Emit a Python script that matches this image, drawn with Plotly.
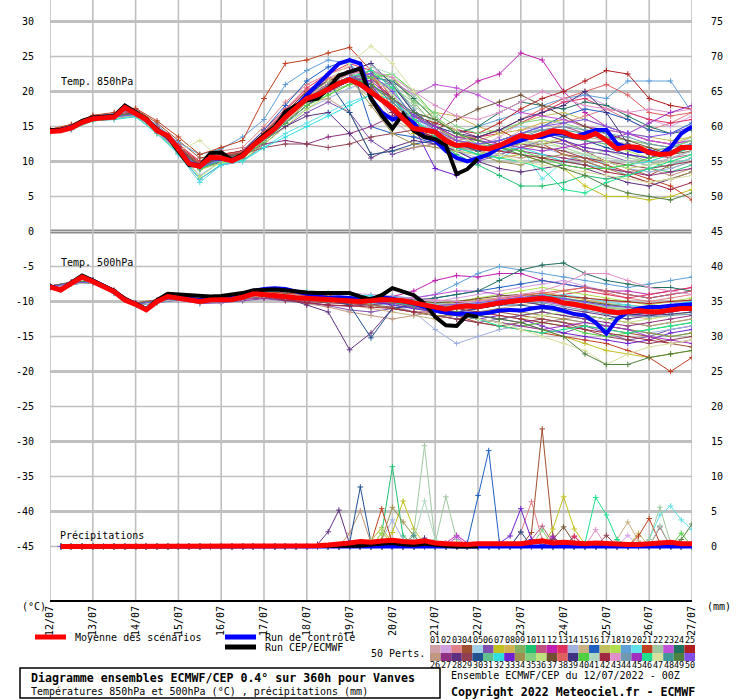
import plotly.graph_objects as go

# ---------------- data ----------------
dates = ["12/07","13/07","14/07","15/07","16/07","17/07","18/07","19/07",
         "20/07","21/07","22/07","23/07","24/07","25/07","26/07","27/07"]
hours6 = list(range(0, 361, 6))
hours12 = list(range(0, 361, 12))
precip_hours = list(range(6, 361, 6))

mean_850 = [14.3,14.4,14.8,15.6,16.1,16.3,16.35,17.7,16.8,16.0,14.4,13.7,11.8,9.7,9.3,
            10.6,10.5,10.1,10.8,12.3,13.5,14.7,16.35,17.6,19.0,19.5,20.4,21.15,21.7,21.0,
            19.9,18.75,17.7,16.1,14.7,14.5,14.2,13.0,12.3,12.4,12.0,11.8,12.3,13.0,13.7,
            13.4,13.9,14.4,14.2,13.6,13.4,14.0,13.0,11.8,12.1,12.0,11.3,11.0,11.1,12.0,12.0]
control_850 = [14.4,14.5,14.9,15.7,16.2,16.4,16.4,17.8,16.9,16.0,14.5,13.7,11.9,9.8,9.4,
               10.5,10.4,10.2,10.9,12.4,13.6,14.8,16.5,17.8,19.5,21.0,22.5,24.0,24.5,24.0,
               19.0,17.0,16.0,16.5,15.5,13.5,13.0,11.5,10.5,10.0,10.5,11.0,12.0,12.5,13.0,
               13.5,13.5,14.0,14.0,13.5,14.0,14.5,14.5,12.5,12.0,11.5,11.5,11.0,12.0,14.0,15.0]
ops_850 = [14.5,14.5,14.9,15.8,16.3,16.4,16.5,18.0,17.0,16.1,14.5,13.6,11.5,9.5,9.4,
           11.2,11.3,10.2,11.0,12.5,13.8,14.9,17.1,18.0,18.75,19.0,20.4,22.3,22.8,23.3,
           19.0,16.6,14.7,16.8,14.4,13.5,13.2,12.3,8.2,8.9,10.4]

mean_500 = [-7.9,-8.35,-7.4,-6.5,-7.15,-7.9,-8.6,-9.8,-10.4,-11.2,-10.0,-9.3,-9.55,-9.8,-10.0,
            -9.8,-9.8,-9.7,-9.4,-8.9,-9.0,-9.2,-9.3,-9.45,-9.55,-9.65,-9.7,-9.7,-9.8,-10.0,
            -9.9,-9.7,-9.8,-9.9,-10.2,-10.5,-10.8,-11.1,-10.8,-10.65,-10.75,-10.4,-10.2,-10.0,-9.8,
            -9.7,-9.55,-9.7,-10.2,-10.4,-10.65,-11.0,-11.35,-11.6,-11.45,-11.3,-11.45,-11.45,-11.2,-11.0,-11.0]
control_500 = [-7.8,-8.3,-7.3,-6.4,-7.0,-7.8,-8.5,-9.7,-10.3,-11.1,-9.9,-9.2,-9.4,-9.6,-9.8,
               -9.6,-9.5,-9.3,-9.0,-8.5,-8.2,-8.1,-8.2,-8.6,-9.0,-9.3,-9.5,-9.4,-9.5,-9.7,
               -9.6,-9.4,-9.6,-9.9,-10.3,-10.8,-11.3,-11.6,-11.8,-11.7,-11.8,-11.6,-11.3,-11.2,-11.3,
               -11.0,-10.8,-10.9,-11.3,-11.8,-12.0,-13.0,-14.6,-12.5,-11.5,-11.0,-10.8,-10.8,-10.6,-10.5,-10.4]
ops_500 = [-7.8,-8.4,-7.3,-6.3,-7.0,-7.8,-8.5,-9.7,-10.3,-11.1,-9.8,-8.9,-9.0,-9.2,-9.3,
           -9.3,-9.2,-9.0,-8.8,-8.4,-8.3,-8.3,-8.4,-8.6,-8.7,-8.8,-8.8,-8.8,-8.8,-9.3,
           -9.7,-9.1,-8.1,-8.6,-9.1,-10.3,-12.2,-13.4,-13.5,-11.9,-12.2]

mean_precip = [0,0,0,0,0,0,0,0,0,0,0,0,0,0,0,0,0,0,0,0,0,0,0,0,
               0.1,0.2,0.3,0.5,0.7,0.6,0.8,0.9,0.7,0.6,0.8,0.5,0.4,0.3,0.3,0.4,0.4,0.3,
               0.3,0.4,0.6,0.8,0.5,0.6,0.5,0.4,0.5,0.4,0.3,0.3,0.3,0.4,0.5,0.6,0.4,0.4]
ops_precip = [0,0,0,0,0,0,0,0,0,0,0,0,0,0,0,0,0,0,0,0,0,0,0,0,0,0,0,0,
              0.1,0.3,0.4,0.5,0.3,0.2,0.4,0.2,0.1,0,0,0]
control_precip = [0,0,0,0,0,0,0,0,0,0,0,0,0,0,0,0,0,0,0,0,0,0,0,0,0,0,0,0,0,0,
                  0,0,0,0,0,0,0,0,0,0,0,0,0,0,0,0,0,0,0,0,0,0,0,0,0,0,0,0,0,0]

member_colors = ["#d0a0a8","#d0a0e0","#e08088","#a05030","#a0d0e8","#8050b0","#c0c020","#d0b050",
                 "#80b060","#20c070","#c05080","#c020b0","#e03060","#a0b0e0","#c8b080","#2060c0",
                 "#c0c060","#b0e050","#60a0d8","#60e0e8","#c04020","#a0c8a0","#c050d8","#207060",
                 "#b02020","#c09880","#903080","#603080","#904050","#205090","#60c090","#30e0e0",
                 "#7020d0","#a09050","#80d080","#c0e080","#705030","#e06060","#403080","#50d040",
                 "#b0d8c0","#a02840","#e090c8","#7098b0","#a030c0","#20e090","#d8e0a0","#409898",
                 "#508040","#8050e8"]

members_850 = [
 [14.5,15.0,16.3,16.2,17.0,14.8,12.0,9.0,10.0,11.0,14.0,17.0,19.5,21.0,22.5,21.0,16.0,13.5,13.0,12.0,11.0,12.5,14.5,15.0,16.0,15.0,14.0,13.0,12.5,12.0,13.0],
 [14.2,14.6,16.0,16.5,16.5,14.0,11.5,9.5,10.8,11.5,14.5,17.5,20.0,22.0,23.0,24.0,20.0,15.0,13.0,11.5,12.0,13.5,15.5,17.0,18.5,19.5,18.0,17.0,16.0,15.0,16.5],
 [14.4,14.8,16.5,16.6,17.2,15.0,12.5,10.0,11.5,12.0,15.0,18.5,21.0,22.5,23.5,22.0,18.5,15.5,14.5,13.5,13.0,12.0,13.0,14.0,15.5,16.5,17.5,16.0,14.5,15.5,17.0],
 [14.6,15.2,16.4,16.8,17.5,15.5,13.0,10.5,11.0,11.5,13.0,15.5,18.5,20.5,22.0,22.5,21.0,17.0,15.0,13.0,12.0,11.0,12.0,12.5,13.0,11.5,10.0,9.0,8.0,9.5,10.5],
 [14.0,14.5,15.8,16.0,16.5,14.2,11.5,9.0,10.5,11.0,13.5,16.0,18.5,20.0,21.5,22.5,19.5,16.5,14.0,12.5,13.5,14.5,15.0,14.5,15.0,14.0,13.0,12.5,11.5,12.0,13.5],
 [14.3,14.8,16.1,16.5,16.5,14.5,11.0,7.5,9.5,10.0,12.5,15.0,17.0,18.5,17.0,13.0,11.0,12.0,12.5,11.5,10.0,11.0,12.0,13.0,12.5,11.5,11.0,10.0,9.5,10.5,11.5],
 [14.2,14.7,15.9,16.2,16.8,14.6,12.0,9.5,10.2,10.5,13.0,16.0,18.5,20.5,22.0,21.5,17.5,14.0,13.5,12.0,11.5,10.5,11.0,10.0,9.0,6.5,5.0,5.0,4.5,5.0,6.0],
 [14.5,15.0,16.2,16.4,17.0,14.8,12.2,9.8,11.0,11.0,13.5,16.5,19.5,21.5,22.5,20.5,18.0,16.0,17.0,16.5,15.0,14.0,14.5,15.5,16.0,15.0,14.5,14.0,13.0,12.5,13.5],
 [14.3,14.9,16.0,16.3,16.7,14.3,11.5,9.2,10.5,11.0,13.0,15.5,18.0,20.0,21.5,23.0,22.0,18.5,15.0,13.0,12.0,12.5,13.5,14.0,13.0,12.0,11.5,11.0,10.0,9.0,10.0],
 [14.4,14.7,16.2,16.5,16.9,14.5,11.8,9.0,10.0,10.5,13.0,16.0,19.0,21.0,22.0,21.0,19.0,15.5,13.0,11.0,9.5,8.0,6.5,6.5,7.0,8.0,7.5,8.0,9.0,8.5,9.5],
 [14.3,14.8,16.2,16.3,16.6,14.2,11.6,9.4,10.6,11.0,14.0,17.0,19.5,21.0,22.0,20.0,17.0,14.5,13.5,12.5,12.5,13.0,14.0,14.5,15.0,14.0,13.5,12.0,11.0,10.5,11.0],
 [14.4,14.9,16.3,16.5,17.0,14.8,12.2,9.6,10.8,11.2,13.8,16.5,19.5,21.0,22.0,20.0,17.5,16.0,15.0,19.5,21.5,22.5,25.5,24.5,20.0,17.0,15.0,14.0,13.0,12.5,13.0],
 [14.5,15.0,16.4,16.7,17.2,15.0,12.5,10.0,11.0,11.5,14.5,17.5,20.5,22.5,24.0,23.0,19.0,16.0,15.0,13.5,13.5,14.0,15.5,17.0,18.5,19.0,17.5,17.0,16.0,15.5,16.0],
 [14.2,14.6,15.9,16.2,16.5,14.0,11.2,8.0,10.0,10.5,13.0,15.5,17.5,19.0,20.5,21.5,21.0,17.0,14.0,11.5,10.5,11.0,12.5,12.0,11.0,10.5,10.0,9.0,8.5,9.0,10.0],
 [14.4,14.8,16.1,16.4,16.9,14.4,11.9,9.3,10.3,10.8,13.5,16.0,19.0,20.5,21.5,19.0,16.0,14.5,13.5,12.0,11.5,12.0,13.0,13.5,14.0,13.5,13.0,12.5,12.0,11.5,12.5],
 [14.3,14.7,16.0,16.5,17.1,14.7,12.0,9.5,10.8,11.5,14.5,18.0,21.5,23.5,24.5,15.0,14.0,13.5,12.5,11.5,12.5,13.0,14.0,15.0,16.5,17.5,17.0,16.0,14.5,14.0,15.5],
 [14.4,14.9,16.2,16.4,16.8,14.3,11.6,9.0,10.5,11.0,13.0,16.0,18.5,20.0,21.0,22.0,20.0,16.5,15.0,13.5,13.0,14.0,15.5,16.5,17.0,16.0,15.0,14.0,13.5,13.0,13.5],
 [14.2,14.6,15.8,16.1,16.4,14.1,11.3,8.8,9.8,10.2,12.5,15.0,17.5,19.5,21.0,22.5,22.0,19.0,16.0,14.0,13.0,12.0,11.5,12.5,13.5,13.0,12.5,11.5,10.5,11.0,12.0],
 [14.5,15.1,16.4,16.8,17.3,15.2,12.7,11.0,11.8,13.5,16.0,21.0,23.0,24.5,24.0,21.0,18.5,16.0,15.0,14.0,15.0,16.0,17.0,18.0,19.0,19.5,19.0,21.5,21.5,21.5,17.0],
 [14.2,14.6,15.9,16.1,16.4,14.0,11.0,7.0,9.5,10.0,12.0,14.0,15.5,17.0,18.5,19.5,18.0,15.0,14.0,12.5,11.0,10.5,12.0,7.5,10.0,11.0,9.5,8.0,9.0,9.5,10.5],
 [14.6,15.3,16.6,17.0,17.6,15.8,13.5,11.0,12.0,13.0,19.0,24.0,24.5,25.5,26.3,23.0,17.5,14.5,13.0,12.0,13.5,14.5,13.0,12.5,11.0,10.5,9.5,8.5,7.5,6.5,4.5],
 [14.3,14.8,16.1,16.3,16.7,14.4,11.7,9.1,10.2,10.7,13.2,16.0,18.5,20.0,21.0,21.5,20.5,18.0,15.5,13.0,12.0,12.5,13.0,12.0,11.5,11.0,11.5,10.5,10.0,11.0,12.0],
 [14.4,14.9,16.2,16.5,16.9,14.6,12.0,9.5,10.8,11.3,14.0,17.0,19.5,21.0,21.5,20.0,21.5,19.5,21.0,20.5,19.5,18.0,17.0,16.5,16.0,15.0,14.5,14.0,13.0,12.5,13.0],
 [14.2,14.7,16.0,16.3,16.6,14.2,11.4,9.0,10.2,10.8,13.0,15.5,18.0,20.0,21.5,22.0,21.5,19.0,16.0,14.0,15.0,17.0,18.5,18.0,17.5,18.5,18.0,16.5,15.0,14.0,14.5],
 [14.5,15.0,16.3,16.6,17.1,14.9,12.3,9.8,11.0,11.5,14.0,17.0,20.0,21.5,23.0,22.0,19.0,16.5,15.5,14.5,14.0,15.5,17.5,19.0,20.0,21.5,23.0,22.5,19.0,18.0,17.5],
 [14.3,14.8,16.1,16.4,16.8,14.4,11.6,9.2,10.4,10.8,13.3,16.0,18.5,19.0,17.0,11.0,11.5,12.0,12.5,12.0,11.5,11.0,10.5,11.0,10.0,9.5,9.0,8.5,9.0,8.0,9.0],
 [14.2,14.6,15.9,16.2,16.6,14.3,11.5,9.2,10.4,10.8,12.5,13.0,12.5,13.5,14.0,15.0,16.5,17.0,16.0,14.5,13.5,12.5,11.5,11.0,10.5,10.0,9.0,8.5,8.0,8.5,9.0],
 [14.3,14.7,16.0,16.4,16.7,14.3,11.5,9.0,10.0,10.5,13.0,15.0,16.5,17.0,14.0,10.5,12.0,13.0,12.5,11.5,10.0,9.0,8.5,9.0,9.5,9.0,8.0,7.0,6.5,7.5,8.5],
 [14.4,14.9,16.2,16.5,16.9,14.5,11.8,9.4,10.6,11.0,12.0,12.5,12.5,12.0,12.5,13.5,14.0,14.5,13.5,12.5,11.5,12.0,12.5,12.0,11.5,10.5,10.0,9.5,9.0,9.5,10.0],
 [14.3,14.8,16.1,16.4,16.8,14.5,11.7,9.1,10.3,10.8,13.5,16.5,19.5,21.5,17.0,11.0,11.5,12.5,13.0,12.5,11.5,12.0,13.0,14.0,13.5,13.0,12.0,11.0,10.5,11.5,12.5],
 [14.4,14.9,16.1,16.4,16.9,14.5,11.8,9.3,10.5,10.9,13.6,16.3,19.0,20.5,22.0,23.0,21.5,17.0,14.5,13.0,12.5,13.0,14.0,14.5,14.0,13.0,12.5,12.0,11.5,12.0,13.0],
 [14.2,14.6,15.8,16.0,16.4,14.0,11.2,7.5,9.6,10.2,12.0,13.5,15.0,16.5,18.0,19.5,19.0,16.0,14.0,12.0,11.0,11.5,12.0,11.0,10.0,9.5,9.0,9.5,10.0,11.0,12.0],
 [14.3,14.8,16.1,16.4,16.7,14.3,11.5,9.0,10.0,10.6,13.0,15.5,18.0,20.0,21.5,21.0,17.0,15.0,9.0,8.0,10.0,12.0,13.5,14.0,13.0,12.0,11.5,11.0,10.5,11.5,12.0],
 [14.4,14.9,16.2,16.5,16.9,14.6,12.0,9.5,10.7,11.2,13.8,16.8,19.5,21.0,22.0,18.0,14.0,12.5,12.0,11.5,11.0,10.0,9.5,10.5,11.0,10.0,9.0,8.0,7.0,7.5,8.5],
 [14.3,14.7,16.0,16.3,16.7,14.3,11.6,9.1,10.3,10.8,13.4,16.2,19.0,21.0,22.5,22.0,20.5,18.5,17.0,15.0,14.0,14.5,15.5,16.0,15.5,14.5,13.5,13.0,12.5,12.0,13.0],
 [14.2,14.6,15.9,16.2,16.6,14.1,11.4,7.8,10.0,10.6,13.0,15.8,18.5,20.5,22.0,22.5,19.5,16.0,13.5,11.5,11.0,11.5,12.5,13.0,12.0,11.0,10.0,9.0,9.5,10.0,11.0],
 [14.5,15.0,16.3,16.6,17.0,14.7,12.1,9.6,10.8,11.3,14.0,17.0,20.0,21.5,22.5,20.5,17.5,15.0,14.5,16.0,17.5,18.5,19.5,18.0,16.5,15.0,14.0,13.0,12.0,11.0,11.5],
 [14.4,14.9,16.2,16.6,17.1,14.8,12.3,9.7,10.9,11.4,14.2,17.3,20.2,21.8,23.0,22.5,18.5,15.5,14.0,13.0,13.5,14.5,16.0,17.5,19.0,20.0,21.0,19.5,17.0,16.5,17.0],
 [14.3,14.8,16.1,16.4,16.8,14.4,11.7,9.2,10.4,10.9,13.6,16.4,19.2,21.0,23.0,24.0,21.0,17.0,15.0,14.0,13.5,14.5,16.0,17.0,18.0,20.0,17.0,12.5,11.0,11.5,12.5],
 [14.3,14.7,16.0,16.3,16.6,14.2,11.4,8.9,10.1,10.5,12.8,15.5,18.0,19.5,21.0,22.0,22.5,20.0,16.5,14.0,12.5,12.0,11.5,10.5,9.5,9.0,9.0,9.5,10.5,11.0,12.0],
 [14.2,14.7,16.0,16.3,16.7,14.3,11.6,9.2,10.2,10.7,13.2,16.0,18.8,20.5,22.0,23.5,22.5,19.5,16.5,13.5,12.5,12.0,13.0,12.5,12.0,11.0,10.5,10.0,9.5,10.5,11.5],
 [14.4,14.9,16.2,16.5,16.9,14.6,11.9,9.4,10.6,11.1,13.7,16.6,19.3,20.8,21.5,20.0,17.0,14.5,13.5,12.5,12.0,11.5,11.0,10.5,10.0,9.5,8.5,8.0,7.0,6.0,7.0],
 [14.3,14.8,16.1,16.4,16.8,14.4,11.7,9.2,10.4,10.9,13.6,16.4,19.2,21.0,22.5,23.0,22.0,20.0,18.0,16.5,16.0,17.0,18.5,20.0,19.0,18.0,17.5,17.0,17.5,17.0,17.5],
 [14.2,14.6,15.9,16.2,16.6,14.2,11.4,9.0,10.2,10.7,13.1,15.9,18.7,20.2,21.5,22.5,21.0,17.5,14.5,12.5,12.0,12.5,13.5,14.5,15.0,14.5,14.0,13.5,12.5,12.0,12.5],
 [14.4,14.9,16.2,16.5,16.9,14.5,11.8,9.3,10.5,11.0,13.5,16.3,19.0,20.6,22.0,21.5,19.0,16.5,15.0,13.5,13.0,12.5,12.0,11.5,12.0,12.5,13.0,14.0,15.5,17.0,18.0],
 [14.3,14.8,16.1,16.3,16.7,14.3,11.5,9.0,10.2,10.7,13.3,16.1,18.8,20.5,22.0,23.0,20.5,16.0,13.5,12.0,11.0,10.5,10.0,9.0,6.0,5.5,7.0,8.0,9.0,10.0,11.0],
 [14.2,14.7,15.9,16.2,16.6,14.2,11.5,13.0,10.3,10.8,13.2,16.0,19.0,21.5,24.0,26.5,24.0,20.0,16.0,14.5,12.0,11.0,10.0,9.5,9.0,8.5,8.0,7.5,7.0,7.5,8.0],
 [14.3,14.8,16.1,16.4,16.8,14.4,11.7,9.2,10.4,10.9,13.5,16.3,19.0,20.8,22.0,21.0,18.5,15.5,14.0,12.5,12.0,12.5,13.5,14.0,14.5,14.0,13.0,12.0,11.5,11.0,12.0],
 [14.4,14.9,16.2,16.5,16.9,14.5,11.8,9.3,10.5,11.0,13.6,16.4,19.1,20.7,21.8,21.0,19.0,17.0,16.0,14.0,13.0,12.0,11.0,10.0,9.0,8.0,6.5,5.5,5.0,4.5,5.5],
 [14.3,14.7,16.0,16.3,16.7,14.3,11.6,9.1,10.3,10.8,13.3,16.1,18.9,20.6,22.0,22.5,20.0,16.5,14.5,13.0,12.5,13.0,14.0,15.0,15.5,16.0,15.0,14.0,13.5,14.0,15.0],
]

members_500 = [
 [-7.8,-7.3,-7.0,-8.5,-10.3,-9.8,-9.3,-9.7,-9.5,-9.2,-8.8,-9.0,-9.3,-9.5,-9.6,-9.8,-10.0,-10.5,-11.0,-10.5,-10.0,-9.5,-9.0,-8.8,-9.5,-10.0,-10.5,-10.8,-11.0,-10.5,-10.2],
 [-8.0,-7.5,-7.1,-8.7,-10.5,-10.1,-9.6,-10.1,-9.9,-9.5,-9.1,-9.4,-9.2,-9.0,-8.8,-9.0,-9.2,-9.6,-10.0,-9.5,-9.0,-8.5,-8.0,-7.5,-7.0,-7.8,-8.5,-9.0,-9.5,-9.0,-8.5],
 [-7.9,-7.4,-7.0,-8.4,-10.2,-9.9,-9.4,-9.8,-9.6,-9.3,-8.8,-9.0,-9.1,-9.3,-9.5,-9.6,-9.5,-10.0,-10.5,-10.8,-11.0,-10.5,-10.0,-9.2,-8.5,-8.0,-8.8,-9.5,-10.0,-9.5,-9.0],
 [-7.8,-7.2,-7.0,-8.5,-10.3,-9.9,-9.5,-10.0,-9.9,-9.6,-9.3,-9.6,-9.8,-10.0,-10.2,-10.5,-11.0,-11.5,-12.0,-12.5,-12.0,-11.5,-12.0,-12.5,-13.0,-13.5,-14.0,-14.5,-15.0,-16.0,-16.5],
 [-8.0,-7.5,-7.3,-8.7,-10.5,-10.1,-9.7,-10.1,-9.9,-9.5,-9.0,-9.2,-9.4,-9.6,-9.8,-10.0,-9.8,-10.0,-10.6,-10.5,-10.2,-9.8,-9.5,-9.3,-9.8,-10.2,-10.8,-11.0,-11.2,-11.0,-10.8],
 [-7.9,-7.5,-7.3,-8.8,-10.6,-10.2,-9.8,-10.3,-10.2,-9.9,-9.6,-9.9,-10.2,-10.6,-11.2,-11.5,-11.0,-11.5,-12.0,-12.5,-13.0,-12.5,-13.0,-14.0,-14.5,-13.5,-14.5,-15.5,-15.0,-14.0,-13.5],
 [-7.8,-7.3,-7.1,-8.6,-10.4,-10.0,-9.5,-10.0,-9.8,-9.4,-9.0,-9.3,-9.5,-9.7,-9.8,-10.0,-10.2,-10.8,-11.5,-12.0,-12.5,-13.0,-13.5,-14.0,-15.0,-16.0,-17.0,-17.5,-18.0,-17.5,-17.0],
 [-7.9,-7.4,-7.2,-8.6,-10.4,-10.0,-9.4,-9.9,-9.7,-9.3,-8.9,-9.2,-9.4,-9.6,-9.7,-9.8,-9.6,-9.9,-10.3,-10.0,-9.7,-9.5,-9.0,-8.8,-9.2,-9.8,-10.3,-10.5,-10.8,-10.5,-10.3],
 [-8.0,-7.5,-7.2,-8.7,-10.5,-10.1,-9.6,-10.1,-9.9,-9.5,-9.1,-9.4,-9.6,-9.8,-9.9,-10.0,-10.3,-10.8,-11.5,-11.0,-10.5,-10.0,-9.8,-10.5,-11.5,-12.0,-12.5,-13.0,-13.5,-13.0,-12.5],
 [-7.9,-7.4,-7.1,-8.6,-10.4,-10.0,-9.5,-10.0,-9.8,-9.4,-9.0,-9.3,-9.5,-9.7,-9.8,-9.9,-9.9,-10.5,-11.0,-11.5,-12.0,-12.5,-12.0,-11.5,-12.0,-12.5,-13.5,-14.0,-14.5,-15.0,-14.5],
 [-7.8,-7.3,-7.1,-8.5,-10.3,-9.9,-9.4,-9.9,-9.7,-9.3,-8.9,-9.2,-9.4,-9.6,-9.7,-9.8,-9.7,-10.1,-10.6,-10.6,-10.5,-10.0,-9.6,-9.3,-10.0,-10.5,-11.0,-11.5,-11.8,-11.5,-11.0],
 [-7.9,-7.4,-7.2,-8.6,-10.4,-10.0,-9.5,-10.0,-9.8,-9.4,-9.0,-9.3,-9.5,-9.6,-9.7,-9.8,-9.3,-8.5,-7.0,-6.3,-6.5,-6.0,-6.0,-7.0,-7.5,-8.0,-8.5,-8.5,-9.0,-8.5,-8.0],
 [-8.0,-7.5,-7.3,-8.7,-10.5,-10.1,-9.6,-10.1,-9.9,-9.5,-9.1,-9.4,-9.6,-9.8,-10.0,-10.2,-10.5,-11.0,-11.5,-11.5,-11.0,-10.5,-10.0,-9.5,-9.0,-8.5,-9.0,-9.5,-9.0,-8.5,-8.0],
 [-7.8,-7.3,-7.0,-8.5,-10.3,-9.9,-9.4,-9.9,-9.7,-9.3,-8.9,-9.2,-9.4,-9.6,-9.8,-10.0,-10.4,-11.5,-14.0,-16.0,-15.0,-14.0,-13.5,-13.0,-12.5,-13.0,-13.5,-14.0,-14.5,-14.0,-13.5],
 [-7.9,-7.4,-7.2,-8.6,-10.4,-10.0,-9.5,-10.0,-9.8,-9.4,-9.0,-9.3,-9.6,-10.0,-10.5,-11.0,-11.5,-12.0,-12.5,-12.0,-11.5,-11.0,-10.5,-10.0,-10.5,-11.0,-11.5,-12.0,-12.5,-12.0,-11.5],
 [-8.0,-7.5,-7.3,-8.7,-10.5,-10.1,-9.7,-10.2,-10.0,-9.6,-9.2,-9.4,-9.6,-9.8,-10.0,-10.5,-10.0,-9.8,-9.5,-9.0,-8.5,-8.0,-7.5,-7.0,-7.5,-8.0,-8.5,-9.0,-9.5,-9.0,-8.5],
 [-7.9,-7.4,-7.1,-8.5,-10.3,-9.9,-9.4,-9.9,-9.7,-9.3,-8.9,-9.2,-9.4,-9.6,-9.8,-9.9,-10.0,-10.5,-11.0,-11.0,-10.5,-10.0,-9.5,-9.5,-10.0,-10.5,-11.0,-11.0,-11.5,-11.0,-10.5],
 [-7.8,-7.3,-6.9,-8.4,-10.2,-9.8,-9.3,-9.8,-9.6,-9.2,-8.8,-9.1,-9.3,-9.5,-9.6,-9.7,-9.5,-9.8,-10.2,-10.0,-9.5,-9.0,-8.5,-8.0,-8.5,-9.0,-9.5,-10.0,-10.5,-10.0,-9.5],
 [-7.9,-7.4,-7.2,-8.6,-10.4,-10.0,-9.5,-10.0,-9.8,-9.2,-8.5,-8.8,-9.0,-9.2,-9.4,-9.5,-9.3,-9.5,-9.0,-7.5,-6.0,-5.0,-5.5,-6.0,-6.5,-7.0,-7.5,-8.0,-7.5,-7.0,-6.5],
 [-8.0,-7.5,-7.3,-8.8,-10.6,-10.2,-9.7,-10.2,-10.0,-9.6,-9.2,-9.5,-9.7,-9.9,-10.1,-10.3,-10.5,-11.0,-11.5,-11.0,-10.8,-10.5,-10.0,-9.5,-9.0,-9.5,-10.0,-10.5,-11.0,-10.5,-10.0],
 [-7.8,-7.3,-7.0,-8.4,-10.2,-9.8,-9.3,-9.8,-9.5,-9.0,-8.6,-8.8,-9.0,-9.2,-9.4,-9.6,-10.0,-10.5,-11.0,-12.0,-13.0,-13.5,-14.0,-14.5,-15.0,-15.5,-16.0,-17.0,-18.0,-20.0,-18.0],
 [-7.9,-7.4,-7.1,-8.6,-10.4,-10.0,-9.5,-10.0,-9.8,-9.4,-9.0,-9.2,-9.4,-9.6,-9.7,-9.8,-9.9,-10.3,-10.8,-10.5,-10.3,-10.0,-9.8,-9.7,-10.0,-10.5,-11.0,-11.2,-11.0,-10.8,-10.5],
 [-8.0,-7.5,-7.2,-8.7,-10.5,-10.1,-9.6,-10.1,-9.9,-9.5,-9.1,-9.4,-9.6,-9.8,-9.9,-10.0,-9.8,-9.5,-9.0,-8.5,-8.5,-9.0,-9.5,-10.0,-10.5,-11.0,-11.5,-12.0,-12.0,-11.5,-11.0],
 [-7.9,-7.4,-7.2,-8.6,-10.4,-10.0,-9.5,-10.0,-9.8,-9.4,-9.0,-9.3,-9.5,-9.7,-9.8,-9.9,-9.8,-9.8,-9.5,-9.0,-8.5,-7.0,-5.5,-4.8,-4.5,-6.0,-7.0,-7.5,-8.0,-8.0,-8.5],
 [-7.8,-7.3,-7.0,-8.5,-10.3,-9.9,-9.4,-9.9,-9.7,-9.3,-8.9,-9.1,-9.3,-9.5,-9.6,-9.7,-9.6,-10.0,-10.5,-10.2,-10.0,-9.8,-9.5,-9.0,-9.2,-9.5,-9.8,-10.0,-10.3,-10.0,-9.8],
 [-7.9,-7.4,-7.1,-8.6,-10.4,-10.0,-9.5,-10.0,-9.8,-9.5,-9.2,-9.8,-10.3,-10.8,-11.5,-12.0,-12.5,-12.0,-11.5,-12.0,-12.5,-13.0,-13.5,-13.0,-12.5,-12.0,-12.5,-13.0,-13.5,-13.0,-12.5],
 [-8.0,-7.5,-7.2,-8.7,-10.5,-10.1,-9.6,-10.1,-9.9,-9.6,-9.5,-9.8,-10.2,-10.5,-10.7,-10.5,-10.2,-10.5,-11.0,-11.5,-12.0,-12.5,-12.0,-11.5,-12.0,-12.5,-13.0,-13.5,-13.0,-12.5,-12.0],
 [-7.9,-7.4,-7.2,-8.6,-10.4,-10.0,-9.5,-10.0,-9.8,-9.4,-9.0,-9.5,-10.5,-11.5,-16.9,-14.5,-11.0,-10.5,-11.0,-11.5,-11.0,-10.5,-10.0,-10.5,-11.0,-11.5,-12.0,-12.5,-12.0,-11.5,-11.0],
 [-7.8,-7.3,-7.0,-8.5,-10.3,-9.9,-9.4,-9.9,-9.7,-9.4,-9.2,-9.6,-10.0,-10.2,-10.3,-10.5,-10.8,-11.5,-12.0,-12.5,-13.0,-13.5,-13.0,-12.5,-13.0,-14.0,-15.0,-15.5,-16.0,-15.5,-15.0],
 [-7.9,-7.4,-7.2,-8.6,-10.4,-10.0,-9.5,-10.0,-9.8,-9.4,-9.0,-9.3,-9.5,-9.8,-10.5,-15.2,-11.0,-10.5,-11.0,-11.5,-11.0,-10.5,-10.5,-11.0,-11.5,-12.0,-12.5,-12.0,-11.5,-11.0,-10.5],
 [-8.0,-7.5,-7.3,-8.7,-10.5,-10.1,-9.6,-10.1,-9.9,-9.5,-9.1,-9.4,-9.6,-9.8,-9.9,-10.0,-10.0,-10.4,-10.9,-10.8,-10.6,-10.2,-9.9,-9.6,-10.2,-10.7,-11.3,-11.5,-11.5,-11.3,-11.0],
 [-7.9,-7.4,-7.1,-8.6,-10.4,-10.0,-9.5,-10.0,-9.7,-9.2,-8.6,-8.5,-8.6,-8.8,-9.0,-9.2,-9.4,-9.8,-10.3,-10.5,-10.5,-10.0,-9.5,-9.0,-9.5,-10.0,-10.5,-10.5,-11.0,-10.5,-10.0],
 [-7.8,-7.3,-7.0,-8.5,-10.3,-9.9,-9.4,-9.9,-9.7,-9.3,-8.9,-9.2,-9.4,-9.6,-9.8,-10.0,-10.5,-11.0,-11.5,-12.0,-12.5,-12.0,-12.5,-13.5,-14.5,-15.0,-15.5,-16.0,-15.5,-14.5,-14.0],
 [-7.9,-7.4,-7.2,-8.6,-10.4,-10.0,-9.5,-10.0,-9.8,-9.4,-9.0,-9.3,-9.5,-9.7,-9.9,-10.5,-11.0,-11.5,-12.0,-12.0,-11.5,-11.0,-11.5,-12.0,-12.5,-13.0,-13.5,-14.0,-14.5,-15.0,-14.5],
 [-8.0,-7.5,-7.2,-8.7,-10.5,-10.1,-9.6,-10.1,-9.9,-9.5,-9.1,-9.4,-9.6,-9.8,-9.9,-10.0,-9.9,-10.2,-10.7,-10.6,-10.4,-10.0,-9.6,-9.4,-9.8,-10.3,-10.8,-11.0,-11.2,-11.0,-10.7],
 [-7.9,-7.4,-7.1,-8.6,-10.4,-10.0,-9.5,-10.0,-9.8,-9.4,-9.0,-9.3,-9.5,-9.7,-9.8,-9.9,-10.0,-10.3,-10.8,-11.0,-11.5,-12.0,-12.5,-12.0,-11.5,-12.0,-12.5,-13.0,-12.5,-12.0,-11.5],
 [-7.8,-7.3,-7.0,-8.5,-10.3,-9.9,-9.4,-9.9,-9.7,-9.3,-8.9,-9.2,-9.4,-9.6,-9.7,-9.8,-9.6,-9.8,-10.2,-10.0,-9.6,-9.2,-9.0,-9.2,-9.6,-10.0,-10.5,-10.8,-11.0,-10.8,-10.5],
 [-7.9,-7.4,-7.2,-8.6,-10.4,-10.0,-9.5,-10.0,-9.8,-9.4,-9.0,-9.3,-9.5,-9.7,-9.8,-9.9,-9.8,-10.0,-10.5,-10.3,-10.0,-9.6,-9.2,-8.8,-8.5,-8.0,-8.5,-9.0,-9.5,-9.0,-8.5],
 [-8.0,-7.5,-7.3,-8.7,-10.5,-10.1,-9.6,-10.1,-9.9,-9.5,-9.1,-9.4,-9.6,-9.8,-9.9,-10.0,-10.2,-10.6,-11.2,-11.0,-10.7,-10.3,-10.0,-9.8,-10.3,-10.8,-11.5,-11.8,-12.0,-11.8,-11.5],
 [-7.9,-7.4,-7.1,-8.6,-10.4,-10.0,-9.5,-10.0,-9.8,-9.4,-9.0,-9.3,-9.5,-9.7,-9.8,-9.9,-10.2,-10.8,-11.5,-12.0,-12.5,-13.0,-13.5,-13.0,-13.5,-14.5,-15.0,-14.5,-14.0,-13.5,-13.0],
 [-7.8,-7.3,-7.0,-8.5,-10.3,-9.9,-9.4,-9.9,-9.7,-9.3,-8.9,-9.1,-9.3,-9.5,-9.6,-9.7,-9.6,-9.9,-10.4,-10.3,-10.1,-9.8,-9.5,-9.3,-9.7,-10.2,-10.7,-11.0,-11.3,-11.0,-10.8],
 [-7.9,-7.4,-7.2,-8.6,-10.4,-10.0,-9.5,-10.0,-9.8,-9.4,-9.3,-9.8,-10.2,-10.5,-10.6,-10.8,-11.0,-11.5,-11.5,-11.0,-11.5,-12.0,-12.5,-13.0,-13.5,-14.0,-14.5,-15.0,-15.5,-16.0,-15.5],
 [-8.0,-7.5,-7.2,-8.7,-10.5,-10.1,-9.6,-10.1,-9.9,-9.5,-9.1,-9.3,-9.5,-9.7,-9.8,-9.8,-9.5,-9.5,-9.8,-10.0,-10.0,-9.5,-9.0,-8.5,-7.5,-6.0,-6.0,-7.0,-8.0,-8.5,-9.0],
 [-7.9,-7.4,-7.1,-8.6,-10.4,-10.0,-9.5,-10.0,-9.8,-9.4,-9.0,-9.3,-9.5,-9.7,-9.8,-9.9,-10.0,-10.3,-10.8,-10.7,-10.5,-10.2,-10.0,-10.2,-10.7,-11.2,-11.8,-12.0,-12.2,-12.0,-11.8],
 [-7.8,-7.3,-7.0,-8.5,-10.3,-9.9,-9.4,-9.9,-9.7,-9.3,-8.9,-9.2,-9.4,-9.6,-9.7,-9.9,-10.2,-10.8,-11.5,-12.0,-12.5,-13.0,-13.5,-14.0,-13.5,-13.0,-13.5,-14.0,-15.0,-15.5,-16.0],
 [-7.9,-7.4,-7.2,-8.6,-10.4,-10.0,-9.5,-10.0,-9.8,-9.4,-9.0,-9.3,-9.5,-9.7,-9.8,-9.9,-10.1,-10.6,-11.2,-11.8,-12.5,-13.5,-14.0,-14.5,-14.0,-13.5,-14.0,-14.5,-14.0,-13.5,-13.0],
 [-8.0,-7.5,-7.3,-8.7,-10.5,-10.1,-9.6,-10.1,-9.9,-9.5,-9.1,-9.4,-9.6,-9.8,-9.9,-10.0,-9.8,-10.2,-10.7,-11.5,-12.5,-13.0,-14.0,-15.0,-16.0,-17.0,-19.0,-17.5,-16.5,-16.0,-15.5],
 [-7.9,-7.4,-7.1,-8.6,-10.4,-10.0,-9.5,-10.0,-9.8,-9.4,-9.0,-9.3,-9.5,-9.7,-9.8,-9.9,-9.9,-10.3,-10.8,-10.8,-10.6,-10.2,-9.8,-9.6,-10.1,-10.6,-11.2,-11.4,-11.4,-11.2,-11.0],
 [-7.8,-7.3,-7.0,-8.5,-10.3,-9.9,-9.4,-9.9,-9.7,-9.3,-8.9,-9.2,-9.4,-9.6,-9.7,-9.8,-10.0,-10.5,-11.0,-11.5,-12.0,-12.5,-13.0,-14.0,-15.0,-17.5,-19.0,-19.0,-18.0,-17.5,-17.0],
 [-7.9,-7.4,-7.2,-8.6,-10.4,-10.0,-9.5,-10.0,-9.8,-9.4,-9.0,-9.3,-9.5,-9.7,-9.8,-9.9,-9.8,-10.1,-10.6,-10.4,-10.2,-9.8,-9.4,-9.2,-9.6,-10.1,-10.6,-10.8,-11.0,-10.8,-10.5],
]

# precipitation events per member (hour, mm); other 6-hour steps are 0
member_precip_events = {
 2: [(324,1.6)],
 3: [(264,2.0),(270,6.4),(276,1.0)],
 4: [(270,2.0),(276,16.8),(282,1.5)],
 7: [(192,2.0),(198,6.5),(204,2.5),(210,0.3),(282,2.5),(288,7.1),(294,2.5),(300,0.3)],
 8: [(180,0.8),(186,2.7),(192,0.5)],
 10: [(186,1.9),(192,11.4),(198,1.5),(204,0.3)],
 11: [(270,1.0),(276,2.9),(282,0.5),(294,1.4)],
 12: [(222,0.5),(228,1.6),(234,0.5),(282,1.2)],
 13: [(294,1.5)],
 14: [(186,1.0),(192,3.8),(198,1.0)],
 15: [(318,1.0),(324,3.5),(330,0.8)],
 16: [(234,0.5),(240,7.3),(246,13.7),(252,0.6)],
 17: [(330,1.9)],
 18: [(186,1.9),(192,0.5)],
 20: [(336,1.0),(342,4.5),(348,5.8),(354,3.8),(360,2.4)],
 21: [(180,0.5),(186,5.4),(192,0.5),(330,1.5),(336,4.0),(342,0.5)],
 22: [(204,2.0),(210,14.4),(216,0.5),(222,7.1),(228,1.0),(336,1.0),(342,5.6),(348,0.5)],
 23: [(228,1.4)],
 26: [(168,1.9),(174,5.1),(180,0.5)],
 28: [(150,0.3),(156,2.1),(162,5.2),(168,0.4)],
 29: [(312,1.6),(342,2.8)],
 30: [(168,0.5),(174,8.5),(180,0.6),(264,2.1)],
 33: [(252,0.5),(258,1.5),(264,5.4),(270,1.0),(276,0.3)],
 34: [(186,1.0),(192,5.6),(198,3.5),(204,1.5)],
 35: [(276,2.4)],
 36: [(180,1.0),(186,2.5)],
 37: [(282,1.0),(288,2.8),(294,0.5)],
 39: [(210,1.2)],
 40: [(354,1.9)],
 41: [(204,1.0),(210,6.5),(216,1.0),(342,3.0)],
 43: [(306,2.4)],
 45: [(282,1.4)],
 46: [(300,0.5),(306,7.0),(312,4.5),(318,1.0)],
 48: [(204,1.6)],
 49: [(354,1.0),(360,3.2)],
}

# ---------------- geometry helpers ----------------
PX_L, PX_R, PX_T, PX_B = 50, 692, 0, 600
Y_ZERO_PX, PX_PER_UNIT = 231.5, 7.0
Y_MIN = -(PX_B - Y_ZERO_PX) / PX_PER_UNIT
Y_MAX = (Y_ZERO_PX - PX_T) / PX_PER_UNIT
PRECIP_OFFSET = 45

def pxx(x):
    return (x - PX_L) / (PX_R - PX_L)

def pxy(y):
    return (PX_B - y) / (PX_B - PX_T)

MONO = "DejaVu Sans Mono"

fig = go.Figure()

def member_trace(x, y, color, axis="y"):
    return go.Scatter(x=x, y=y, mode="lines+markers", yaxis=axis,
                      line=dict(color=color, width=1),
                      marker=dict(symbol="cross-thin", size=4, color=color,
                                  line=dict(color=color, width=1)),
                      hoverinfo="skip", showlegend=False)

for i, vals in enumerate(members_850):
    fig.add_trace(member_trace(hours12[:len(vals)], vals, member_colors[i]))
for i, vals in enumerate(members_500):
    fig.add_trace(member_trace(hours12[:len(vals)], vals, member_colors[i]))
for i in range(50):
    ev = dict(member_precip_events.get(i + 1, []))
    pr = [ev.get(h, 0.0) for h in precip_hours]
    fig.add_trace(member_trace(precip_hours, pr, member_colors[i], axis="y2"))

def thick(x, y, color, width, axis="y"):
    return go.Scatter(x=x, y=y, mode="lines", yaxis=axis,
                      line=dict(color=color, width=width),
                      hoverinfo="skip", showlegend=False)

# control run
fig.add_trace(thick(hours6, control_850, "#0000ff", 4))
fig.add_trace(thick(hours6, control_500, "#0000ff", 4))
fig.add_trace(thick(precip_hours, control_precip, "#0000ff", 4, "y2"))
# operational run
fig.add_trace(thick(hours6[:len(ops_850)], ops_850, "#000000", 4))
fig.add_trace(thick(hours6[:len(ops_500)], ops_500, "#000000", 4))
fig.add_trace(thick(precip_hours[:len(ops_precip)], ops_precip, "#000000", 4, "y2"))
# ensemble mean
fig.add_trace(thick(hours6, mean_850, "#ff0000", 5))
fig.add_trace(thick(hours6, mean_500, "#ff0000", 5))
fig.add_trace(thick(precip_hours, mean_precip, "#ff0000", 5, "y2"))

shapes = []
GRID = "#c0c0c0"
for v in range(30, -50, -5):
    if v == 0:
        continue
    shapes.append(dict(type="line", xref="paper", yref="y", x0=0, x1=1, y0=v, y1=v,
                       line=dict(color=GRID, width=3 if v % 10 == 0 else 1.6), layer="below"))
shapes.append(dict(type="line", xref="paper", yref="y", x0=0, x1=1, y0=0, y1=0,
                   line=dict(color="#8c8c8c", width=4), layer="below"))
shapes.append(dict(type="line", xref="paper", yref="y", x0=0, x1=1, y0=0, y1=0,
                   line=dict(color="#d0d0d0", width=1.2), layer="below"))
for d in range(16):
    shapes.append(dict(type="line", xref="x", yref="paper", x0=24 * d, x1=24 * d, y0=0, y1=1,
                       line=dict(color=GRID, width=1.6), layer="below"))

annotations = []

def text_at(x, y, s, size=10, anchor="left", bold=False):
    if bold:
        s = "<b>" + s + "</b>"
    annotations.append(dict(x=pxx(x), y=pxy(y), xref="paper", yref="paper", text=s,
                            showarrow=False, xanchor=anchor, yanchor="middle",
                            font=dict(family=MONO, size=size, color="black")))

# panel labels
text_at(59, 81, "Temp. 850hPa")
text_at(59, 262, "Temp. 500hPa")
text_at(58, 535, "Précipitations")
text_at(20, 606, "(°C)")
text_at(705, 606, "(mm)")

# legend
shapes.append(dict(type="line", xref="paper", yref="paper", x0=pxx(35), x1=pxx(66),
                   y0=pxy(637), y1=pxy(637), line=dict(color="#ff0000", width=5)))
shapes.append(dict(type="line", xref="paper", yref="paper", x0=pxx(225), x1=pxx(256),
                   y0=pxy(637), y1=pxy(637), line=dict(color="#0000ff", width=5)))
shapes.append(dict(type="line", xref="paper", yref="paper", x0=pxx(225), x1=pxx(256),
                   y0=pxy(647), y1=pxy(647), line=dict(color="#000000", width=5)))
text_at(73, 637, "Moyenne des scénarios")
text_at(263, 637, "Run de contrôle")
text_at(263, 647, "Run CEP/ECMWF")
text_at(369, 653, "50 Perts.")

GX0, GW = 430, 10.6
for i in range(25):
    x0 = GX0 + i * GW
    shapes.append(dict(type="rect", xref="paper", yref="paper", x0=pxx(x0), x1=pxx(x0 + GW),
                       y0=pxy(653), y1=pxy(645), line=dict(width=0), fillcolor=member_colors[i]))
    shapes.append(dict(type="rect", xref="paper", yref="paper", x0=pxx(x0), x1=pxx(x0 + GW),
                       y0=pxy(661), y1=pxy(653), line=dict(width=0), fillcolor=member_colors[i + 25]))
    text_at(x0 + GW / 2, 640, "%02d" % (i + 1), size=8.5, anchor="center")
    text_at(x0 + GW / 2, 665, "%02d" % (i + 26), size=8.5, anchor="center")

# info box
shapes.append(dict(type="rect", xref="paper", yref="paper", x0=pxx(20), x1=pxx(440),
                   y0=pxy(698), y1=pxy(668), line=dict(color="black", width=1.5)))
text_at(29, 678, "Diagramme ensembles ECMWF/CEP 0.4° sur 360h pour Vanves", size=11.6, bold=True)
text_at(29, 691, "Températures 850hPa et 500hPa (°C) , précipitations (mm)")
text_at(449, 675, "Ensemble ECMWF/CEP du 12/07/2022 - 00Z")
text_at(449, 692, "Copyright 2022 Meteociel.fr - ECMWF", size=11.6, bold=True)

left_ticks = list(range(30, -50, -5))
right_ticks = list(range(0, 80, 5))

fig.update_layout(
    width=740, height=700,
    margin=dict(l=PX_L, r=740 - PX_R, t=PX_T, b=700 - PX_B),
    paper_bgcolor="white", plot_bgcolor="white",
    showlegend=False,
    shapes=shapes, annotations=annotations,
    xaxis=dict(range=[0, 360], tickvals=[24 * d for d in range(16)], ticktext=dates,
               tickangle=-90, showgrid=False, zeroline=False, showline=True,
               linecolor="black", linewidth=2, ticks="",
               tickfont=dict(family=MONO, size=10, color="black")),
    yaxis=dict(range=[Y_MIN, Y_MAX], tickvals=left_ticks, ticktext=[str(v) for v in left_ticks],
               showgrid=False, zeroline=False, showline=False, ticks="",
               ticklabelstandoff=15,
               tickfont=dict(family=MONO, size=10, color="black")),
    yaxis2=dict(range=[Y_MIN + PRECIP_OFFSET, Y_MAX + PRECIP_OFFSET], overlaying="y", side="right",
                tickvals=right_ticks, ticktext=[str(v) for v in right_ticks],
                showgrid=False, zeroline=False, showline=False, ticks="",
                ticklabelstandoff=18,
                tickfont=dict(family=MONO, size=10, color="black")),
)

fig.write_html("out.html")
